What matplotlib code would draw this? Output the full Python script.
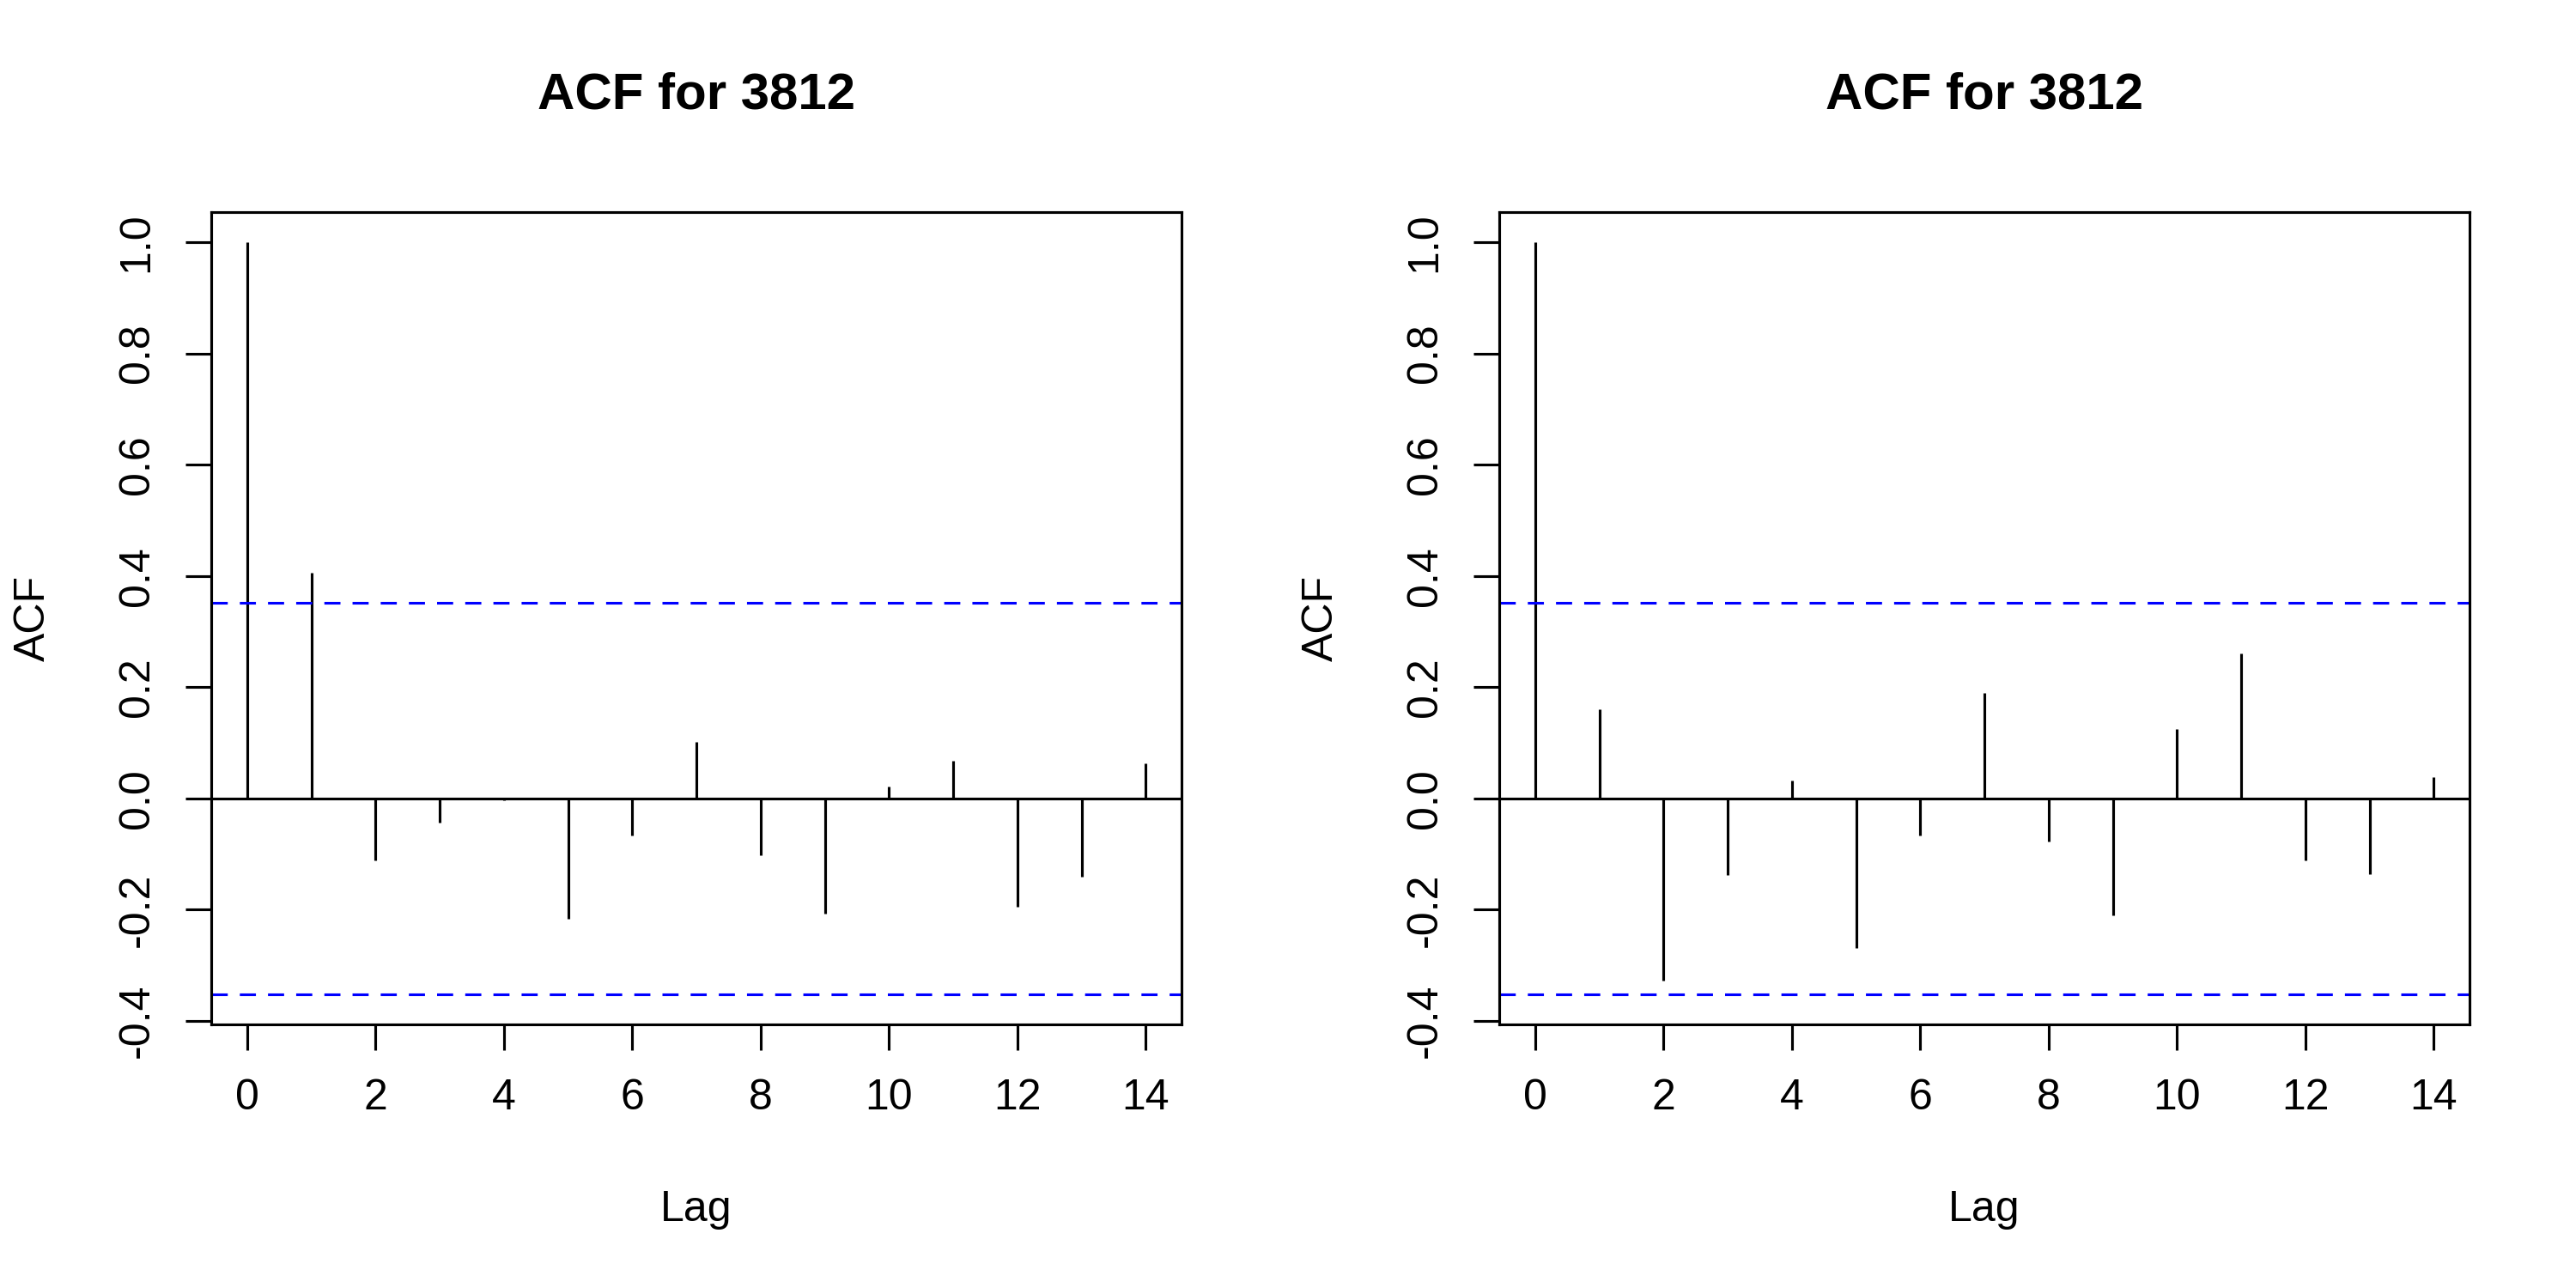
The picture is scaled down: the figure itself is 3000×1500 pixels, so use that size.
import matplotlib
matplotlib.use("Agg")
import matplotlib.pyplot as plt

plt.rcParams.update({
    "font.family": ["Liberation Sans", "DejaVu Sans"],
    "font.size": 12,
    "axes.linewidth": 0.75,
    "xtick.major.width": 0.75,
    "ytick.major.width": 0.75,
    "xtick.major.size": 7.2,
    "ytick.major.size": 7.2,
    "xtick.major.pad": 8,
    "ytick.major.pad": 8,
})

# ── 데이터 ──
lags = list(range(15))
acf_left = [1.0, 0.405, -0.111, -0.043, -0.003, -0.217, -0.066, 0.102,
            -0.102, -0.207, 0.021, 0.067, -0.195, -0.141, 0.063]
acf_right = [1.0, 0.160, -0.328, -0.137, 0.032, -0.269, -0.066, 0.189,
             -0.078, -0.210, 0.125, 0.261, -0.111, -0.136, 0.038]
clim = 0.352  # 95% 신뢰구간 (±)
titles = ["ACF for 3812", "ACF for 3812"]
xticks = [0, 2, 4, 6, 8, 10, 12, 14]
yticks = [-0.4, -0.2, 0.0, 0.2, 0.4, 0.6, 0.8, 1.0]


def draw_acf(ax, values, title):
    ax.vlines(lags, 0, values, color="black", linewidth=0.75)
    ax.axhline(0, color="black", linewidth=0.75)
    for c in (clim, -clim):
        ax.axhline(c, color="#0000ff", linewidth=0.75, linestyle=(0, (6, 4.5)))

    # R 스타일 축 범위 (4% 여유)
    lo, hi = min(min(values), -clim), max(max(values), clim)
    pad = (hi - lo) * 0.04
    ax.set_ylim(lo - pad, hi + pad)
    xpad = (lags[-1] - lags[0]) * 0.04
    ax.set_xlim(lags[0] - xpad, lags[-1] + xpad)

    ax.set_xticks(xticks)
    ax.set_yticks(yticks)
    ax.set_yticklabels([f"{t:.1f}" for t in yticks], rotation=90, va="center")
    ax.tick_params(direction="out")

    ax.set_title(title, fontsize=14.4, fontweight="bold", pad=29)
    ax.set_xlabel("Lag", labelpad=20)
    ax.set_ylabel("ACF", labelpad=18)


fig = plt.figure(figsize=(10, 5), dpi=300, facecolor="white")
ax1 = fig.add_axes([0.082, 0.2047, 0.3767, 0.6307])
ax2 = fig.add_axes([0.582, 0.2047, 0.3767, 0.6307])

draw_acf(ax1, acf_left, titles[0])
draw_acf(ax2, acf_right, titles[1])

fig.savefig("out.png", dpi=300, facecolor="white")
plt.close(fig)
